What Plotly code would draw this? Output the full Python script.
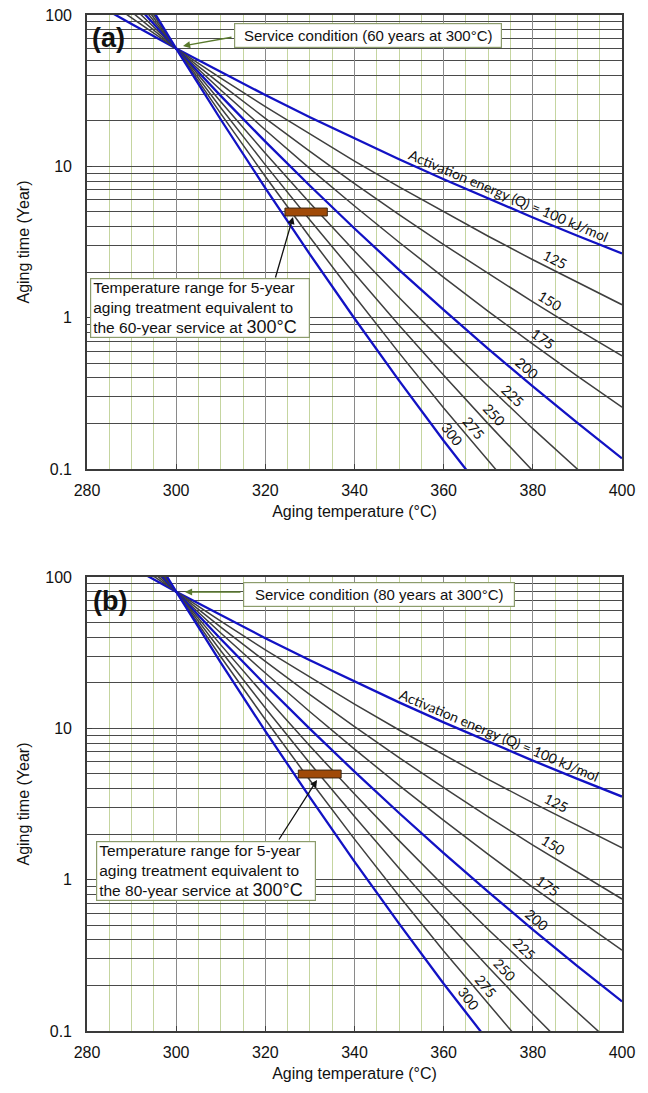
import numpy as np
import plotly.graph_objects as go

# ---------------- data ----------------
temps = [280, 290, 300, 310, 320, 330, 340, 350, 360, 370, 380, 390, 400]
energies = [100, 125, 150, 175, 200, 225, 250, 275, 300]
y_tickvals = [0.1, 1, 10, 100]
y_ticktext = ["0.1", "1", "10", "100"]
x_tickvals = [280, 300, 320, 340, 360, 380, 400]

# panel (a): 60 years at 300 C
a_q100 = [128.2, 87.09, 60, 41.86, 29.57, 21.13, 15.26, 11.14, 8.212, 6.112, 4.590, 3.477, 2.656]
a_q125 = [154.9, 95.60, 60, 38.26, 24.78, 16.28, 10.84, 7.312, 4.995, 3.453, 2.414, 1.706, 1.218]
a_q150 = [187.3, 104.9, 60, 34.97, 20.76, 12.54, 7.697, 4.800, 3.038, 1.951, 1.270, 0.8372, 0.5588]
a_q175 = [226.3, 115.2, 60, 31.96, 17.39, 9.657, 5.466, 3.151, 1.848, 1.102, 0.6677, 0.4108, 0.2563]
a_q200 = [273.6, 126.4, 60, 29.21, 14.57, 7.439, 3.882, 2.069, 1.124, 0.6227, 0.3512, 0.2015, 0.1176]
a_q225 = [330.8, 138.8, 60, 26.70, 12.21, 5.730, 2.757, 1.358, 0.6838, 0.3518, 0.1847, 0.09889, 0.0539]
a_q250 = [399.9, 152.3, 60, 24.40, 10.23, 4.414, 1.958, 0.8913, 0.4159, 0.1987, 0.09714, 0.04852, 0.02473]
a_q275 = [483.5, 167.2, 60, 22.30, 8.572, 3.401, 1.390, 0.5850, 0.2530, 0.1123, 0.0511, 0.0238, 0.01135]
a_q300 = [584.6, 183.5, 60, 20.39, 7.182, 2.620, 0.9873, 0.3840, 0.1538, 0.06343, 0.02687, 0.01168, 0.005206]

# panel (b): 80 years at 300 C
b_q100 = [170.9, 116.1, 80, 55.81, 39.43, 28.17, 20.35, 14.85, 10.95, 8.149, 6.120, 4.636, 3.541]
b_q125 = [206.5, 127.5, 80, 51.01, 33.04, 21.71, 14.45, 9.749, 6.660, 4.604, 3.219, 2.275, 1.624]
b_q150 = [249.7, 139.9, 80, 46.63, 27.68, 16.72, 10.26, 6.400, 4.051, 2.601, 1.693, 1.116, 0.7451]
b_q175 = [301.7, 153.6, 80, 42.61, 23.19, 12.88, 7.288, 4.201, 2.464, 1.469, 0.8903, 0.5477, 0.3417]
b_q200 = [364.8, 168.5, 80, 38.95, 19.43, 9.919, 5.176, 2.759, 1.499, 0.8303, 0.4683, 0.2687, 0.1568]
b_q225 = [441.1, 185.1, 80, 35.60, 16.28, 7.640, 3.676, 1.811, 0.9117, 0.4691, 0.2463, 0.1319, 0.07187]
b_q250 = [533.2, 203.1, 80, 32.53, 13.64, 5.885, 2.611, 1.188, 0.5545, 0.2649, 0.1295, 0.06469, 0.03297]
b_q275 = [644.7, 222.9, 80, 29.73, 11.43, 4.535, 1.853, 0.7800, 0.3373, 0.1497, 0.06813, 0.03173, 0.01513]
b_q300 = [779.5, 244.7, 80, 27.19, 9.576, 3.493, 1.316, 0.5120, 0.2051, 0.08457, 0.03583, 0.01557, 0.006941]

# 5-year aging temperature ranges (brown bars)
bar_a_temps = [324.4, 333.9]
bar_b_temps = [327.4, 337.0]
bar_time = [4.7, 5.3]

# label placement along lines (temperature, deg C)
label_temp_a = [373.6, 384.0, 382.6, 380.9, 377.1, 373.9, 369.6, 364.9, 359.9]
label_temp_b = [371.7, 384.1, 383.2, 382.0, 379.4, 376.4, 372.0, 367.8, 363.7]

series_a = [a_q100, a_q125, a_q150, a_q175, a_q200, a_q225, a_q250, a_q275, a_q300]
series_b = [b_q100, b_q125, b_q150, b_q175, b_q200, b_q225, b_q250, b_q275, b_q300]

# ---------------- styling ----------------
W, H = 648, 1093
PX_L, PX_R = 87, 622
A_TOP, A_BOT = 15, 469
B_TOP, B_BOT = 577, 1031
px_per_deg = (PX_R - PX_L) / 120.0
px_per_dec = (A_BOT - A_TOP) / 3.0

BLUE = "#1212c4"
GRAY = "#3f3f3f"
GREEN_GRID = "#c5d5a0"
BOX_BORDER = "#8c9c6c"
ARROW_GREEN = "#5a7a2e"
BAR_FILL = "#a04a08"
BAR_LINE = "#3c2814"
TXT = "#111111"
FONT = "Liberation Sans, Arial, sans-serif"
LFONT = "Lato, Open Sans, sans-serif"

fig = go.Figure()

for panel, series in (("a", series_a), ("b", series_b)):
    xr = "x" if panel == "a" else "x2"
    yr = "y" if panel == "a" else "y2"
    for q, vals in zip(energies, series):
        blue = q in (100, 200, 300)
        fig.add_trace(go.Scatter(
            x=temps, y=vals, mode="lines", xaxis=xr, yaxis=yr,
            line=dict(color=BLUE if blue else GRAY, width=2.3 if blue else 1.5),
            showlegend=False, hoverinfo="skip"))
    bt = bar_a_temps if panel == "a" else bar_b_temps
    fig.add_trace(go.Scatter(
        x=[bt[0], bt[1], bt[1], bt[0], bt[0]],
        y=[bar_time[0], bar_time[0], bar_time[1], bar_time[1], bar_time[0]],
        mode="lines", fill="toself", fillcolor=BAR_FILL,
        line=dict(color=BAR_LINE, width=1), xaxis=xr, yaxis=yr,
        showlegend=False, hoverinfo="skip"))

annotations = []

# line labels
for panel, series, ltemps in (("a", series_a, label_temp_a), ("b", series_b, label_temp_b)):
    xr = "x" if panel == "a" else "x2"
    yr = "y" if panel == "a" else "y2"
    for q, vals, T in zip(energies, series, ltemps):
        lv = np.log10(np.array(vals, dtype=float))
        yl = float(np.interp(T, temps, lv))
        slope = (np.interp(T + 1, temps, lv) - np.interp(T - 1, temps, lv)) / 2.0
        ang = float(np.degrees(np.arctan(-slope * px_per_dec / px_per_deg)))
        text = "Activation energy (Q) = 100 kJ/mol" if q == 100 else str(q)
        sh = 10.5
        annotations.append(dict(
            x=T, y=yl, xref=xr, yref=yr, text=text, showarrow=False,
            textangle=ang, font=dict(family=LFONT, size=14, color=TXT),
            xshift=sh * np.sin(np.radians(ang)), yshift=sh * np.cos(np.radians(ang)),
            xanchor="center", yanchor="middle"))

def paper(px, py):
    return px / W, 1 - py / H

# panel letters
for lbl, (px, py) in (("(a)", (108, 38)), ("(b)", (110, 601))):
    xp, yp = paper(px, py)
    annotations.append(dict(x=xp, y=yp, xref="paper", yref="paper", text="<b>" + lbl + "</b>",
                            showarrow=False, font=dict(family=FONT, size=27, color=TXT),
                            xanchor="center", yanchor="middle"))

# service condition boxes
for txt, (px, py), w in (("Service condition (60 years at 300°C)", (367.5, 35.5), 262),
                         ("Service condition (80 years at 300°C)", (378.5, 594), 266)):
    xp, yp = paper(px, py)
    annotations.append(dict(x=xp, y=yp, xref="paper", yref="paper", text=txt, showarrow=False,
                            font=dict(family=FONT, size=15, color=TXT), bgcolor="white",
                            bordercolor=BOX_BORDER, borderwidth=1.2, borderpad=2,
                            width=w, height=19, xanchor="center", yanchor="middle"))

# callout boxes
for yrs, (px, py) in (("60", (200, 308.5)), ("80", (206, 870.5))):
    xp, yp = paper(px, py)
    txt = ("Temperature range for 5-year<br>aging treatment equivalent to<br>"
           "the " + yrs + "-year service at <span style='font-size:18px'>300°C</span>")
    annotations.append(dict(x=xp, y=yp, xref="paper", yref="paper", text=txt, showarrow=False,
                            font=dict(family=FONT, size=15.5, color=TXT), bgcolor="white",
                            bordercolor=BOX_BORDER, borderwidth=1.2, borderpad=2, align="left",
                            width=214, height=54, xanchor="center", yanchor="middle"))

# arrows (tip in data coords, tail offset in pixels)
arrows = [
    ("x", "y", 301.53, 1.7952, 50, -9, ARROW_GREEN),
    ("x2", "y2", 301.98, 1.9009, 57, 0, ARROW_GREEN),
    ("x", "y", 326.21, 0.6652, -18, 62, "#111111"),
    ("x2", "y2", 331.59, 0.6586, -39, 61, "#111111"),
]
for xr, yr, x, y, ax, ay, col in arrows:
    annotations.append(dict(x=x, y=y, xref=xr, yref=yr, ax=ax, ay=ay, text="",
                            showarrow=True, arrowhead=2, arrowsize=1.1, arrowwidth=1.3,
                            arrowcolor=col))

def xaxis_cfg(anchor, domain):
    return dict(domain=domain, anchor=anchor, range=[280, 400], tickvals=x_tickvals,
                ticks="inside", ticklen=5, tickcolor=GRAY, showline=True, mirror=True,
                linecolor="#3a3a3a", linewidth=1.6, showgrid=True, gridcolor="#8a8a8a",
                gridwidth=1, zeroline=False, automargin=False,
                minor=dict(dtick=5, showgrid=True, gridcolor=GREEN_GRID, gridwidth=1.2),
                tickfont=dict(family=FONT, size=16, color=TXT), ticklabelstandoff=6,
                title=dict(text="Aging temperature (°C)", font=dict(family=FONT, size=16, color=TXT),
                           standoff=8))

def yaxis_cfg(anchor, domain):
    return dict(domain=domain, anchor=anchor, type="log", range=[-1, 2], tickvals=y_tickvals,
                ticktext=y_ticktext, ticks="inside", ticklen=5, tickcolor=GRAY, showline=True,
                mirror=True, linecolor="#3a3a3a", linewidth=1.6, showgrid=True,
                gridcolor="#4a4a4a", gridwidth=1, zeroline=False, automargin=False,
                minor=dict(dtick="D1", showgrid=True, gridcolor="#4a4a4a", gridwidth=1),
                tickfont=dict(family=FONT, size=16, color=TXT), ticklabelstandoff=10,
                title=dict(text="Aging time (Year)", font=dict(family=FONT, size=16, color=TXT),
                           standoff=12))

xa_dom = [PX_L / W, PX_R / W]
fig.update_layout(
    width=W, height=H, margin=dict(l=0, r=0, t=0, b=0),
    paper_bgcolor="white", plot_bgcolor="white", showlegend=False,
    xaxis=xaxis_cfg("y", xa_dom),
    yaxis=yaxis_cfg("x", [1 - A_BOT / H, 1 - A_TOP / H]),
    xaxis2=xaxis_cfg("y2", xa_dom),
    yaxis2=yaxis_cfg("x2", [1 - B_BOT / H, 1 - B_TOP / H]),
    annotations=annotations,
)

fig.write_html("out.html", config={"displayModeBar": False},
               post_script="document.body.style.margin='0px';")
